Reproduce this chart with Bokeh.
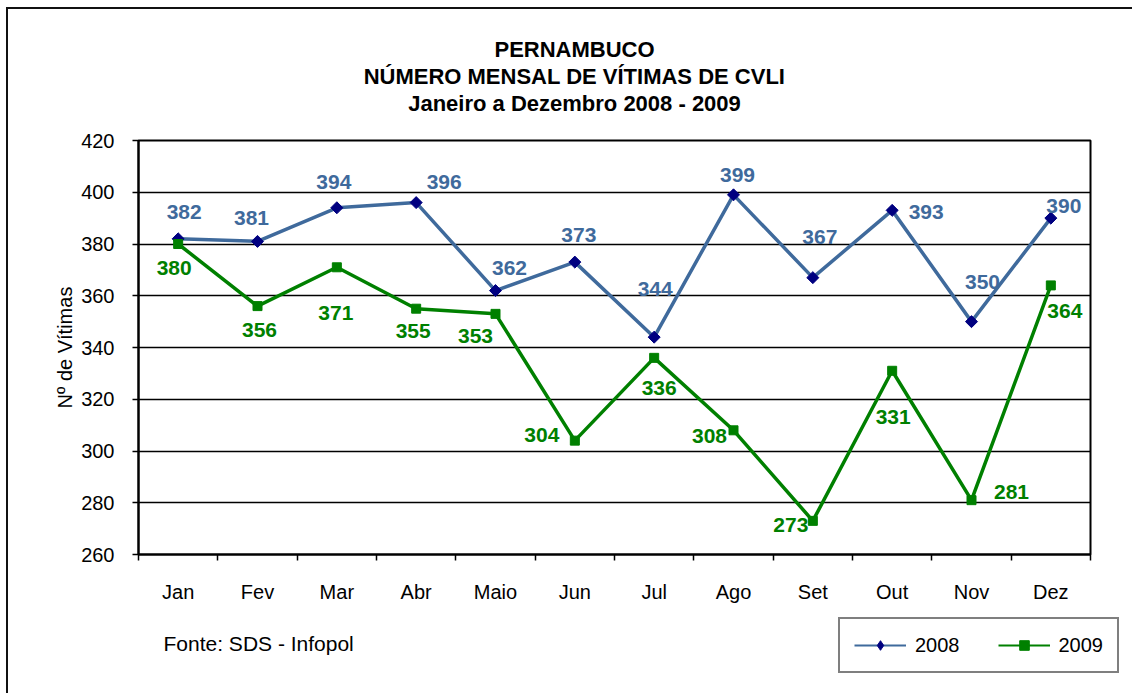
import math
from bokeh.plotting import figure
from bokeh.layouts import column
from bokeh.models import FixedTicker, Label, Legend, LegendItem, Range1d, Title
from bokeh.embed import file_html
from bokeh.resources import INLINE
from bokeh.core.properties import value

# ---------------- data ----------------
months = ["Jan", "Fev", "Mar", "Abr", "Maio", "Jun", "Jul", "Ago", "Set", "Out", "Nov", "Dez"]
v2008 = [382, 381, 394, 396, 362, 373, 344, 399, 367, 393, 350, 390]
v2009 = [380, 356, 371, 355, 353, 304, 336, 308, 273, 331, 281, 364]
y_ticks = [260, 280, 300, 320, 340, 360, 380, 400, 420]
series_names = ["2008", "2009"]
title_lines = ["PERNAMBUCO", "NÚMERO MENSAL DE VÍTIMAS DE CVLI", "Janeiro a Dezembro 2008 - 2009"]
source_note = "Fonte: SDS - Infopol"
y_label = "Nº de Vítimas"

# data-label offsets in pixels (screen: +x right, +y down)
dx08 = [6, -6, -3, 28, 14, 4, 1, 4, 7, 34, 11, 13]
dy08 = [-27, -23, -26, -21, -23, -27, -48, -20, -41, 2, -40, -12]
dx09 = [-4, 2, -1, -3, -20, -33, 5, -24, -22, 1, 40, 14]
dy09 = [24, 24, 46, 22, 22, -6, 30, 6, 4, 46, -8, 26]

FONT = "Liberation Sans"
BLUE = "#3F6A9C"
NAVY = "#000080"
GREEN = "#008000"

xs = [i + 0.5 for i in range(len(months))]
bounds = list(range(len(months) + 1))

# ---------------- main chart ----------------
p = figure(width=1124, height=596,
           x_range=Range1d(0, len(months)), y_range=Range1d(y_ticks[0], y_ticks[-1]),
           output_backend="svg", toolbar_location=None,
           min_border_left=130, min_border_right=42, min_border_top=131, min_border_bottom=50,
           background_fill_color="white", border_fill_color="white")
p.title.visible = False

p.outline_line_color = "black"
p.outline_line_width = 2

# x axis: labels at centers, ticks at category boundaries
xa = p.xaxis[0]
xa.ticker = FixedTicker(ticks=xs, minor_ticks=bounds)
xa.major_label_overrides = {x: m for x, m in zip(xs, months)}
xa.major_tick_line_color = None
xa.major_tick_out = 0
xa.major_tick_in = 0
xa.minor_tick_out = 6
xa.minor_tick_in = 0
xa.minor_tick_line_color = "black"
xa.minor_tick_line_width = 1.5
xa.axis_line_color = "black"
xa.axis_line_width = 2
xa.major_label_standoff = 20
xa.major_label_text_font = FONT
xa.major_label_text_font_size = "20px"
xa.major_label_text_color = "black"

ya = p.yaxis[0]
ya.ticker = FixedTicker(ticks=y_ticks)
ya.major_tick_out = 6
ya.major_tick_in = 0
ya.major_tick_line_color = "black"
ya.major_tick_line_width = 1.5
ya.minor_tick_line_color = None
ya.axis_line_color = "black"
ya.axis_line_width = 2
ya.major_label_standoff = 18
ya.major_label_text_font = FONT
ya.major_label_text_font_size = "20px"
ya.major_label_text_color = "black"
ya.axis_label = y_label
ya.axis_label_text_font = FONT
ya.axis_label_text_font_size = "20px"
ya.axis_label_text_font_style = "normal"
ya.axis_label_text_color = "black"
ya.axis_label_standoff = 2

p.xgrid.visible = False
p.ygrid.ticker = FixedTicker(ticks=y_ticks)
p.ygrid.grid_line_color = "black"
p.ygrid.grid_line_width = 1.5

# series
p.line(xs, v2008, line_color=BLUE, line_width=3.5)
p.scatter(xs, v2008, marker="square", angle=math.pi / 4, size=8.5, fill_color=NAVY, line_color=NAVY)
p.line(xs, v2009, line_color=GREEN, line_width=3.5)
p.scatter(xs, v2009, marker="square", size=9, fill_color=GREEN, line_color=GREEN)

# data labels
p.text(x=xs, y=v2008, text=[str(v) for v in v2008], x_offset=dx08, y_offset=dy08,
       text_font=value(FONT), text_font_style="bold", text_font_size="21px",
       text_color=BLUE, text_align="center", text_baseline="middle")
p.text(x=xs, y=v2009, text=[str(v) for v in v2009], x_offset=dx09, y_offset=dy09,
       text_font=value(FONT), text_font_style="bold", text_font_size="21px",
       text_color=GREEN, text_align="center", text_baseline="middle")

# title: spacer + three lines, stacked upward from the frame
p.add_layout(Title(text=" ", text_font_size="1px", standoff=22), "above")
title_widths = [7.275, 19.168, 15.118]  # em widths (Liberation Sans Bold) for centring
for txt, w in reversed(list(zip(title_lines, title_widths))):
    off = 574 - 138 - w * 22 / 2
    p.add_layout(Title(text=txt, align="left", offset=off, standoff=0,
                       text_font=FONT, text_font_size="22px", text_font_style="bold",
                       text_color="black"), "above")

# ---------------- bottom strip: source note + legend ----------------
p2 = figure(frame_width=1124, frame_height=88, x_range=Range1d(0, 1), y_range=Range1d(0, 1),
            output_backend="svg", toolbar_location=None,
            x_axis_location=None, y_axis_location=None, min_border=0,
            background_fill_color="white", border_fill_color="white")
p2.title.visible = False
p2.grid.visible = False
p2.outline_line_color = None
if "frame_align" in p2.properties():
    p2.frame_align = False
    p.frame_align = False

p2.add_layout(Label(x=155, y=50, x_units="screen", y_units="screen", text=source_note,
                    text_font=FONT, text_font_size="21px", text_color="black",
                    text_baseline="middle", text_align="left"))

# legend proxies: the series drawn again in the strip, where they fall outside its range
l1 = p2.line(xs, v2008, line_color=BLUE, line_width=2)
m1 = p2.scatter(xs, v2008, marker="diamond", size=12, fill_color=NAVY, line_color=NAVY)
l2 = p2.line(xs, v2009, line_color=GREEN, line_width=2)
m2 = p2.scatter(xs, v2009, marker="square", size=9, fill_color=GREEN, line_color=GREEN)
legend = Legend(items=[LegendItem(label=series_names[0], renderers=[l1, m1]),
                       LegendItem(label=series_names[1], renderers=[l2, m2])],
                location=(830, 20), orientation="horizontal",
                glyph_width=52, glyph_height=24, padding=14, spacing=38, label_standoff=9,
                border_line_color="black", border_line_width=2,
                label_text_font=FONT, label_text_font_size="20px", label_text_color="black",
                background_fill_color="white", background_fill_alpha=1.0, margin=0)
p2.add_layout(legend, "center")

layout = column(p, p2, spacing=0)
layout.styles = {"margin-left": "6px", "margin-top": "7px",
                 "border-left": "2px solid #111", "border-top": "2px solid #111"}

open("out.html", "w").write(file_html(layout, INLINE))
